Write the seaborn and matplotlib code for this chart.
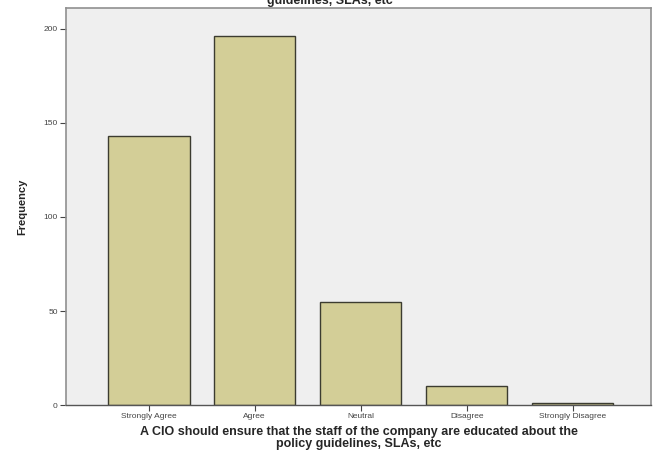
import pandas as pd
import matplotlib.pyplot as plt
import seaborn as sns

categorias = ['Strongly Agree', 'Agree', 'Neutral', 'Disagree', 'Strongly Disagree']
frecuencias = [143, 196, 55, 10, 1]
ticks_y = [0, 50, 100, 150, 200]

titulo = ('A CIO should ensure that the staff of the company are educated about the policy\n'
          'guidelines, SLAs, etc')
etiqueta_x = ('A CIO should ensure that the staff of the company are educated about the\n'
              'policy guidelines, SLAs, etc')

df = pd.DataFrame({'respuesta': categorias, 'frecuencia': frecuencias})

sns.set_style('white')
plt.rcParams['font.family'] = ['Liberation Sans', 'DejaVu Sans']

fig = plt.figure(figsize=(6.59, 4.70), dpi=100)
ax = fig.add_axes([0.1002, 0.138, 0.8878, 0.845])
ax.set_facecolor('#efefef')

sns.barplot(x='respuesta', y='frecuencia', data=df, ax=ax, color='#d3ce97',
            saturation=1, width=0.77, edgecolor='#3c3c30', linewidth=1.0)

ax.set_xlim(-0.78, 4.74)
ax.set_ylim(0, 211)
ax.set_yticks(ticks_y)
ax.set_yticklabels([str(t) for t in ticks_y], fontsize=6, color='#444444')
ax.set_xticks(range(len(categorias)))
ax.set_xticklabels(categorias, fontsize=6, color='#444444')
ax.tick_params(axis='both', direction='out', length=4, width=0.8, colors='#444444',
               bottom=True, left=True, pad=2)

for lado in ['top', 'right', 'left']:
    ax.spines[lado].set_color('#909090')
    ax.spines[lado].set_linewidth(1.2)
ax.spines['bottom'].set_color('#555555')
ax.spines['bottom'].set_linewidth(1.0)

ax.set_ylabel('Frequency', fontsize=8, fontweight='bold', labelpad=12)
ax.set_xlabel(etiqueta_x, fontsize=9, fontweight='bold', labelpad=4, linespacing=0.95)

fig.text(0.5, 0.986, titulo, ha='center', va='bottom', fontsize=9,
         fontweight='bold', linespacing=0.95)

plt.savefig('out.png', dpi=100)
plt.close()
